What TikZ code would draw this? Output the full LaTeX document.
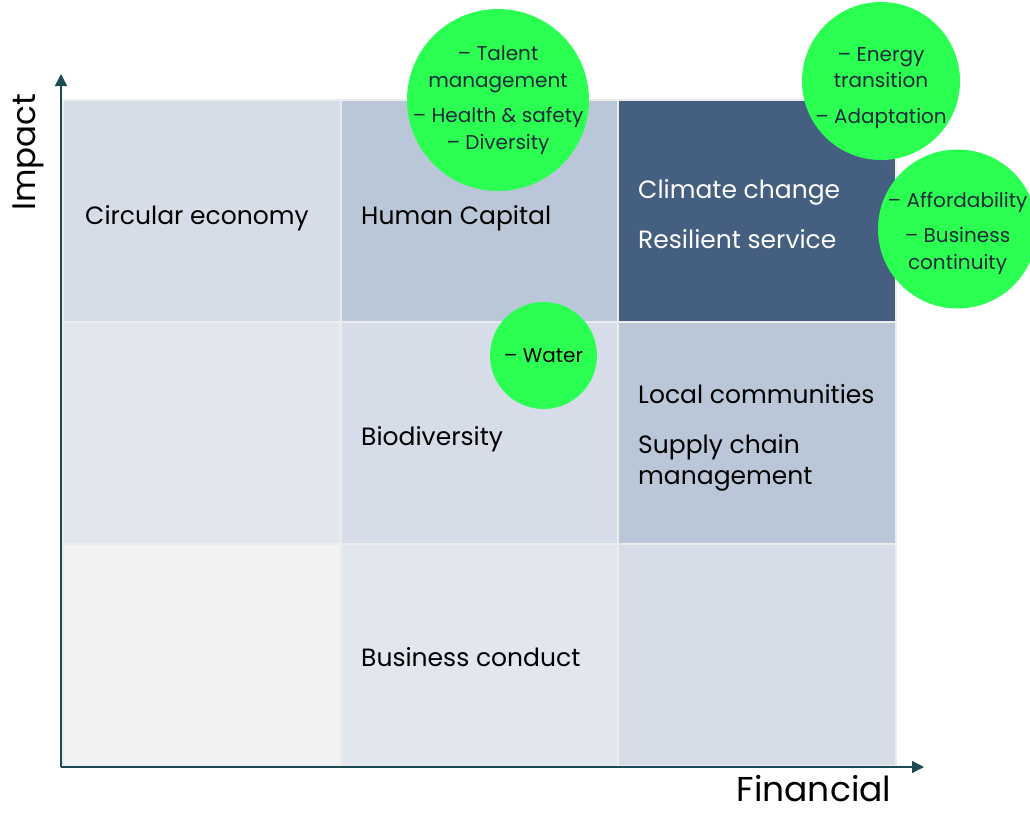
\documentclass[tikz,border=0pt]{standalone}
\usepackage{fontspec}
\setmainfont{Poppins}
\usetikzlibrary{arrows.meta}

\definecolor{cellpale}{HTML}{F2F2F2}
\definecolor{celllight}{HTML}{E1E6EF}
\definecolor{cellmid}{HTML}{D6DDE8}
\definecolor{cellstrong}{HTML}{BAC7D8}
\definecolor{celldark}{HTML}{455F80}
\definecolor{bubblegreen}{HTML}{2BFF52}
\definecolor{bubbletext}{HTML}{1C2B3A}
\definecolor{axisteal}{HTML}{1B4A55}

\begin{document}
\begin{tikzpicture}[x=1pt,y=-1pt,
  cellbox/.style={draw=gray!15,line width=2pt},
  lbl/.style={anchor=base west,inner sep=0pt,font=\fontsize{25}{31}\selectfont,align=left},
  bubble/.style={circle,fill=bubblegreen,inner sep=0pt},
  bubbletxt/.style={inner sep=0pt,text=bubbletext,align=center,font=\fontsize{20}{26.5}\selectfont},
  axis/.style={axisteal,line width=1.4pt,-{Triangle[length=12pt,width=12pt]}}]
\useasboundingbox (0,0) rectangle (1030,812);

% 3x3 grid, row 0 at the top
\foreach \c/\r/\col in {0/0/cellmid,1/0/cellstrong,2/0/celldark,
                        0/1/celllight,1/1/cellmid,2/1/cellstrong,
                        0/2/cellpale,1/2/celllight,2/2/cellmid}
  \draw[cellbox,fill=\col] (63+277.5*\c,100+222*\r) rectangle ++(277.5,222);

% axes
\coordinate (origin) at (61,767);
\coordinate (ytip) at (61,74);
\coordinate (xtip) at (924,767);
\draw[axis] (origin) -- (ytip);
\draw[axis] (origin) -- (xtip);
\node[rotate=90,font=\fontsize{32.5}{38}\selectfont] (impact) at (28,152) {Impact};
\node[anchor=base,inner sep=0pt,font=\fontsize{34.5}{40}\selectfont] (financial) at (814,801) {Financial};

% topic labels
\node[lbl] (circular) at (85,224) {Circular economy};
\node[lbl] (human) at (361,224) {Human Capital};
\node[lbl,text=white] (climate) at (638,198) {Climate change};
\node[lbl,text=white] (resilient) at (638,248) {Resilient service};
\node[lbl] (biodiv) at (361,445) {Biodiversity};
\node[lbl] (local) at (638,403) {Local communities};
\node[lbl] (supply) at (638,484) {Supply chain\\management};
\node[lbl] (conduct) at (361,666) {Business conduct};

% sub-topic bubbles
\node[bubble,minimum size=182pt] (social) at (498,100) {};
\node[bubble,minimum size=158pt] (energy) at (881,81) {};
\node[bubble,minimum size=159pt] (afford) at (957.5,229) {};
\node[bubble,minimum size=107pt] (water) at (543.5,355.5) {};
\node[bubbletxt] (socialtxt) at (social.center)
  {– Talent\\management\\[9pt]– Health \& safety\\– Diversity};
\node[bubbletxt] (energytxt) at ([yshift=-7pt]energy.center)
  {– Energy\\transition\\[9pt]– Adaptation};
\node[bubbletxt] (affordtxt) at ([yshift=-4pt]afford.center)
  {– Affordability\\[9pt]– Business\\continuity};
\node[bubbletxt,text=black] (watertxt) at (water.center) {– Water};
\end{tikzpicture}
\end{document}
